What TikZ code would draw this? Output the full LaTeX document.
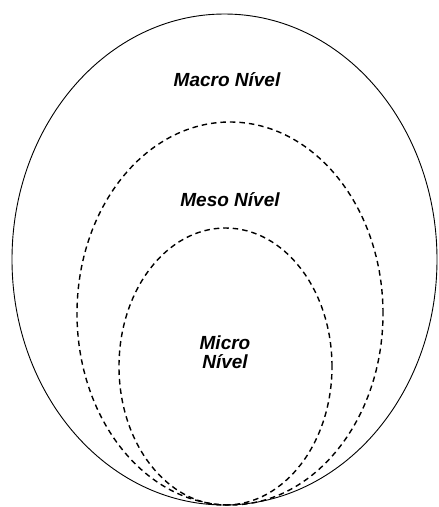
\documentclass[tikz,border=0pt]{standalone}
\usepackage{fontspec}
\setmainfont{Liberation Sans}
\usetikzlibrary{positioning}

\tikzset{
    level/.style={font=\bfseries\itshape\fontsize{19}{22}\selectfont, align=center},
    ring/.style={line width=1.4pt, dash pattern=on 5.5pt off 4pt}
}

\begin{document}
\begin{tikzpicture}[x=1pt, y=-1pt]
    \useasboundingbox (0,0) rectangle (439,507);

    % Outer ellipse
    \draw[line width=0.9pt] (224.5,259.5) ellipse [x radius=212.5pt, y radius=245.5pt];

    % Dashed ellipses
    \draw[ring] (230,313.5) ellipse [x radius=153pt, y radius=191.5pt];
    \draw[ring] (225.5,366.5) ellipse [x radius=106.5pt, y radius=138.5pt];

    % Labels
    \node[level] (macro) at (227,80) {Macro Nível};
    \node[level] (meso) at (230,200) {Meso Nível};
    \node[level] (micro) at (225,352) {Micro\\[-3pt]Nível};
\end{tikzpicture}
\end{document}
